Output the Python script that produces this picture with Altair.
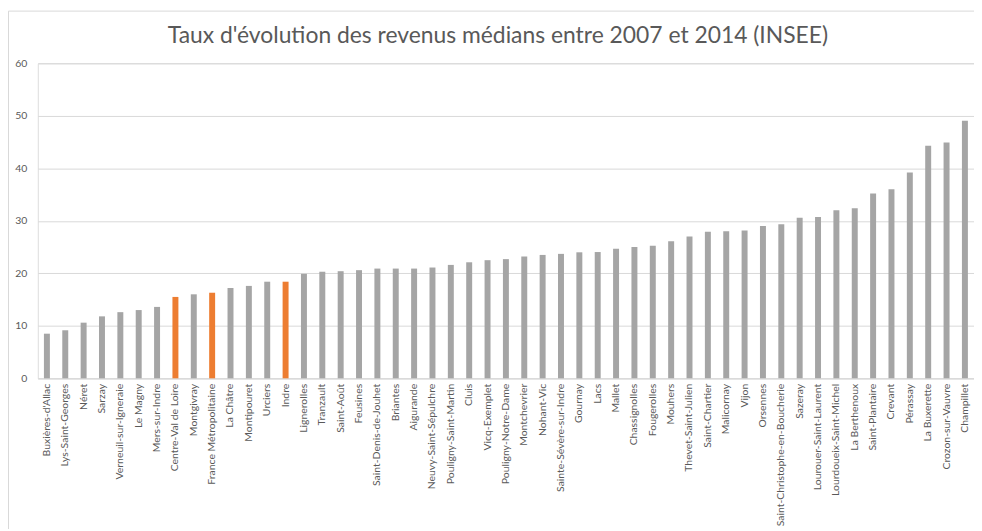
import altair as alt
import pandas as pd

communes = [
    "Buxières-d'Allac", "Lys-Saint-Georges", "Néret", "Sarzay", "Verneuil-sur-Igneraie",
    "Le Magny", "Mers-sur-Indre", "Centre-Val de Loire", "Montgivray", "France Métropolitaine",
    "La Châtre", "Montipouret", "Urciers", "Indre", "Lignerolles", "Tranzault", "Saint-Août",
    "Feusines", "Saint-Denis-de-Jouhet", "Briantes", "Aigurande", "Neuvy-Saint-Sépulchre",
    "Pouligny-Saint-Martin", "Cluis", "Vicq-Exemplet", "Pouligny-Notre-Dame", "Montchevrier",
    "Nohant-Vic", "Sainte-Sévère-sur-Indre", "Gournay", "Lacs", "Mallet", "Chassignolles",
    "Fougerolles", "Mouhers", "Thevet-Saint-Julien", "Saint-Chartier", "Malicornay", "Vijon",
    "Orsennes", "Saint-Christophe-en-Boucherie", "Sazeray", "Lourouer-Saint-Laurent",
    "Lourdoueix-Saint-Michel", "La Berthenoux", "Saint-Plantaire", "Crevant", "Pérassay",
    "La Buxerette", "Crozon-sur-Vauvre", "Champillet",
]
taux = [
    8.5, 9.15, 10.6, 11.8, 12.6, 13.0, 13.6, 15.5, 16.0, 16.3,
    17.2, 17.6, 18.4, 18.4, 19.9, 20.3, 20.4, 20.6, 20.9, 20.9,
    20.9, 21.1, 21.6, 22.1, 22.5, 22.7, 23.2, 23.5, 23.7, 24.0,
    24.05, 24.7, 25.0, 25.25, 26.1, 27.0, 27.9, 28.0, 28.15, 29.0,
    29.35, 30.6, 30.7, 32.0, 32.4, 35.2, 36.0, 39.2, 44.3, 44.9, 49.05,
]
references = ["Centre-Val de Loire", "France Métropolitaine", "Indre"]
y_ticks = [0, 10, 20, 30, 40, 50, 60]
title_text = "Taux d'évolution des revenus médians entre 2007 et 2014 (INSEE)"

df = pd.DataFrame({"commune": communes, "taux": taux})
df["type"] = ["ref" if c in references else "commune" for c in communes]

FONT = "Lato"
W, H = 942, 317

bars = alt.Chart(df).mark_bar(size=6).encode(
    x=alt.X("commune:N", sort=communes, title=None,
            scale=alt.Scale(paddingInner=0.67, paddingOuter=0.33),
            axis=alt.Axis(labelAngle=-90, labelFontSize=10.5, labelColor="#595959",
                          labelFont=FONT, ticks=False, domainColor="#D9D9D9",
                          labelPadding=5, labelOverlap=False)),
    y=alt.Y("taux:Q", title=None,
            scale=alt.Scale(domain=[0, 60]),
            axis=alt.Axis(values=y_ticks, labelFontSize=10.5,
                          labelColor="#595959", labelFont=FONT, ticks=False, domain=False,
                          gridColor="#D9D9D9", labelPadding=11)),
    color=alt.Color("type:N", legend=None,
                    scale=alt.Scale(domain=["commune", "ref"], range=["#A5A5A5", "#ED7D31"])),
)

one = alt.Data(values=[{"t": title_text}])
frame_left = alt.Chart(one).mark_rule(color="#D9D9D9", strokeWidth=1).encode(
    x=alt.value(-29.5), y=alt.value(-52.5), y2=alt.value(H + 160)
)
frame_top = alt.Chart(one).mark_rule(color="#D9D9D9", strokeWidth=1).encode(
    x=alt.value(-29.5), x2=alt.value(W + 10), y=alt.value(-52.5)
)
title = alt.Chart(one).mark_text(
    font=FONT, fontSize=23, color="#595959", align="center", baseline="alphabetic"
).encode(
    text="t:N", x=alt.value(W / 2 - 8), y=alt.value(-20)
)

chart = alt.layer(bars, frame_left, frame_top, title).properties(
    width=W,
    height=H,
    autosize=alt.AutoSizeParams(type="none"),
    padding={"left": 30, "top": 54, "right": 0, "bottom": 150},
).configure_view(stroke=None).configure(background="white")

chart.save("out.html", embed_options={"renderer": "svg", "actions": False})
